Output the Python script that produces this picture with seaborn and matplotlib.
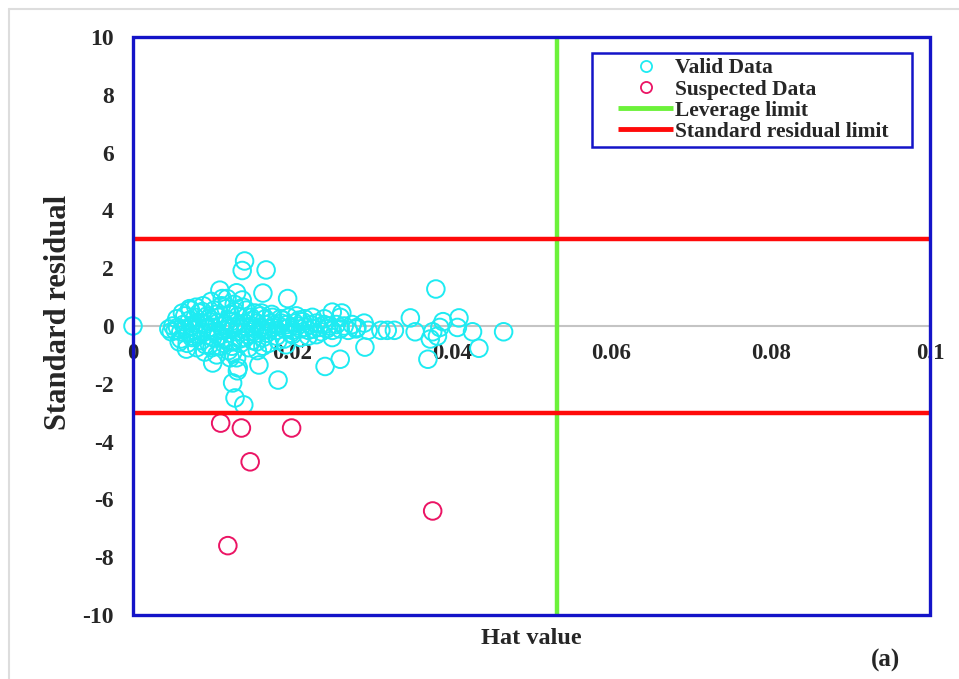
import numpy as np
import pandas as pd
import matplotlib
matplotlib.use("Agg")
import matplotlib.pyplot as plt
import seaborn as sns
from matplotlib.lines import Line2D
from matplotlib.patches import Rectangle
from matplotlib.legend_handler import HandlerLine2D

sns.set_theme(style="white")
plt.rcParams["font.family"] = ["Liberation Serif", "DejaVu Serif"]
plt.rcParams["font.weight"] = "bold"
plt.rcParams["axes.unicode_minus"] = False

# valid data (hat value, standard residual)
valid_hat = [
    0.0000, 0.0140, 0.0137, 0.0167, 0.0163, 0.0194, 0.0109, 0.0130, 0.0071, 0.0118,
    0.0380, 0.0348, 0.0409, 0.0465, 0.0434, 0.0370, 0.0291, 0.0354, 0.0311, 0.0319,
    0.0328, 0.0281, 0.0376, 0.0385, 0.0389, 0.0426, 0.0407, 0.0373, 0.0382, 0.0241,
    0.0260, 0.0100, 0.0125, 0.0158, 0.0125, 0.0128, 0.0139, 0.0182, 0.0122, 0.0131,
    0.0132, 0.0163, 0.0192, 0.0262, 0.0250,
    # dense band around zero
    0.0045, 0.0048, 0.0050, 0.0053, 0.0056, 0.0060, 0.0063, 0.0066, 0.0070, 0.0073,
    0.0076, 0.0080, 0.0083, 0.0086, 0.0090, 0.0093, 0.0096, 0.0100, 0.0103, 0.0106,
    0.0110, 0.0113, 0.0116, 0.0120, 0.0123, 0.0126, 0.0130, 0.0133, 0.0136, 0.0140,
    0.0143, 0.0146, 0.0150, 0.0153, 0.0156, 0.0160, 0.0163, 0.0166, 0.0170, 0.0173,
    0.0176, 0.0180, 0.0183, 0.0186, 0.0190, 0.0193, 0.0196, 0.0200, 0.0203, 0.0206,
    0.0210, 0.0213, 0.0216, 0.0220, 0.0223, 0.0226, 0.0230, 0.0233, 0.0236, 0.0240,
    0.0243, 0.0246, 0.0250, 0.0255, 0.0260, 0.0265, 0.0270, 0.0275, 0.0280, 0.0290,
    0.0295,
    # spread around the band
    0.0055, 0.0060, 0.0065, 0.0068, 0.0072, 0.0075, 0.0078, 0.0080, 0.0083, 0.0086,
    0.0088, 0.0090, 0.0093, 0.0096, 0.0098, 0.0100, 0.0102, 0.0105, 0.0108, 0.0110,
    0.0112, 0.0115, 0.0117, 0.0120, 0.0122, 0.0125, 0.0127, 0.0130, 0.0132, 0.0135,
    0.0137, 0.0140, 0.0142, 0.0145, 0.0148, 0.0150, 0.0153, 0.0156, 0.0160, 0.0163,
    0.0166, 0.0170, 0.0175, 0.0180, 0.0185, 0.0190, 0.0195, 0.0200, 0.0205, 0.0210,
    0.0215, 0.0220, 0.0225, 0.0230, 0.0240, 0.0250, 0.0260,
    # extra points filling the thick part of the band
    0.0058, 0.0062, 0.0067, 0.0071, 0.0074, 0.0079, 0.0082, 0.0087, 0.0091, 0.0095,
    0.0099, 0.0104, 0.0107, 0.0111, 0.0114, 0.0119, 0.0124, 0.0128, 0.0134, 0.0138,
    0.0144, 0.0149, 0.0155, 0.0161, 0.0168, 0.0174, 0.0182, 0.0188, 0.0198, 0.0208,
]
valid_resid = [
    0.00, 2.25, 1.92, 1.94, 1.14, 0.95, 1.24, 1.15, 0.60, 0.95,
    1.28, 0.28, 0.28, -0.20, -0.77, -1.15, -0.73, -0.20, -0.15, -0.15,
    -0.15, -0.05, -0.20, -0.05, 0.15, -0.20, -0.05, -0.45, -0.35, -1.40,
    -1.15, -1.28, -0.93, -1.35, -1.97, -2.49, -2.73, -1.87, -1.10, -1.55,
    -1.45, -0.70, -0.65, 0.45, 0.48,
    -0.10, -0.20, 0.00, -0.15, -0.05, -0.20, 0.05, -0.10, -0.25, 0.00,
    -0.15, 0.10, -0.05, -0.20, 0.05, -0.10, 0.15, -0.05, -0.20, 0.10,
    0.00, -0.15, 0.05, -0.10, 0.15, -0.05, -0.20, 0.05, -0.10, 0.10,
    -0.05, -0.20, 0.00, -0.10, 0.10, -0.05, -0.15, 0.05, -0.10, 0.10,
    -0.05, -0.15, 0.00, 0.10, -0.10, 0.05, -0.05, -0.15, 0.10, 0.00,
    -0.10, 0.15, -0.05, -0.15, 0.05, -0.10, 0.10, -0.05, -0.20, 0.05,
    -0.10, 0.00, -0.15, 0.05, -0.10, 0.00, -0.15, 0.05, -0.10, 0.10,
    -0.15,
    0.25, -0.45, 0.35, -0.60, 0.55, -0.35, 0.30, -0.75, 0.45, -0.50,
    0.70, -0.90, 0.35, -0.65, 0.85, -0.40, 0.55, -1.00, 0.30, -0.70,
    0.95, -0.45, 0.60, -0.85, 0.40, -0.55, 0.75, -1.10, 0.35, -0.60,
    0.90, -0.40, 0.55, -0.75, 0.30, -0.50, 0.45, -0.85, 0.35, -0.40,
    0.25, -0.60, 0.30, -0.35, 0.25, -0.45, 0.30, -0.30, 0.35, -0.40,
    0.25, -0.35, 0.30, -0.30, 0.25, -0.40, 0.30,
    -0.55, 0.45, -0.80, 0.20, -0.40, 0.65, -0.30, 0.50, -0.65, 0.25,
    -0.75, 0.40, -0.35, 0.70, -0.60, 0.20, -0.70, 0.50, -0.45, 0.65,
    -0.30, 0.20, -0.55, 0.45, -0.25, 0.40, -0.50, 0.20, -0.25, 0.20,
]

suspect_hat = [0.0110, 0.0136, 0.0199, 0.0147, 0.0119, 0.0376]
suspect_resid = [-3.36, -3.53, -3.53, -4.70, -7.60, -6.40]

leverage_limit = 0.0532
resid_limit = 3.0

df = pd.DataFrame({
    "hat": valid_hat + suspect_hat,
    "resid": valid_resid + suspect_resid,
    "kind": ["Valid Data"] * len(valid_hat) + ["Suspected Data"] * len(suspect_hat),
})

cyan = "#1EEBF2"
pink = "#EB1464"
green = "#6CF23A"
red = "#FF0A0A"
blue = "#1414C8"


class RightHandle(HandlerLine2D):
    # legend handle drawn in the right part of the handle box
    def create_artists(self, legend, orig_handle, xdescent, ydescent,
                       width, height, fontsize, trans):
        arts = super().create_artists(legend, orig_handle, xdescent, ydescent,
                                      width, height, fontsize, trans)
        k = 0.72
        right = width - xdescent
        for a in arts:
            xd = np.asarray(a.get_xdata(), dtype=float)
            a.set_xdata(right - (right - xd) * k)
        return arts


fig = plt.figure(figsize=(9.59, 6.79), dpi=100)
ax = fig.add_axes([133 / 959, 1 - 615 / 679, 797 / 959, 578 / 679])

sns.scatterplot(data=df, x="hat", y="resid", hue="kind",
                palette={"Valid Data": cyan, "Suspected Data": pink},
                s=160, linewidth=1.4, legend=False, ax=ax, zorder=3)
for coll in ax.collections:
    fc = coll.get_facecolors()
    coll.set_edgecolors(fc)
    coll.set_facecolors("none")
    coll.set_clip_on(False)

ax.axvline(leverage_limit, color=green, lw=3.2, zorder=4)
ax.axhline(resid_limit, color=red, lw=3.2, zorder=4)
ax.axhline(-resid_limit, color=red, lw=3.2, zorder=4)

ax.set_xlim(0, 0.1)
ax.set_ylim(-10, 10)
ax.set_xticks([0, 0.02, 0.04, 0.06, 0.08, 0.1])
ax.set_xticklabels(["0", "0.02", "0.04", "0.06", "0.08", "0.1"])
ax.set_yticks(np.arange(-10, 11, 2))

# x axis runs through zero, frame is drawn separately
ax.spines["bottom"].set_position(("data", 0))
ax.spines["bottom"].set_color("#C4C4C4")
ax.spines["bottom"].set_linewidth(1.5)
ax.spines["bottom"].set_zorder(1)
for s in ["left", "right", "top"]:
    ax.spines[s].set_visible(False)
ax.add_patch(Rectangle((0, 0), 1, 1, transform=ax.transAxes, fill=False,
                       edgecolor=blue, lw=2.4, clip_on=False, zorder=5))

ax.tick_params(axis="x", length=0, pad=12, labelsize=16.5)
ax.tick_params(axis="y", length=0, pad=14, labelsize=17)
for lab in ax.get_xticklabels() + ax.get_yticklabels():
    lab.set_fontweight("bold")

ax.set_xlabel("")
ax.set_ylabel("Standard residual", fontsize=22, fontweight="bold")
ax.yaxis.set_label_coords(-0.075, 0.524)
ax.text(0.5, -0.022, "Hat value", transform=ax.transAxes, ha="center", va="top",
        fontsize=17.5, fontweight="bold")
fig.text(885 / 959, 1 - 660 / 679, "(a)", ha="center", va="center",
         fontsize=18, fontweight="bold")

handles = [
    Line2D([], [], ls="none", marker="o", mfc="none", mec=cyan, ms=8, mew=1.3),
    Line2D([], [], ls="none", marker="o", mfc="none", mec=pink, ms=8, mew=1.3),
    Line2D([], [], color=green, lw=3.5, solid_capstyle="butt"),
    Line2D([], [], color=red, lw=3.5, solid_capstyle="butt"),
]
labels = ["Valid Data", "Suspected Data", "Leverage limit", "Standard residual limit"]
leg_x0 = (592 - 133) / 797
leg_w = 320 / 797
leg_top = (615 - 53) / 578
leg = ax.legend(handles, labels, loc="upper left", mode="expand",
                bbox_to_anchor=(leg_x0, leg_top - 0.3, leg_w, 0.3),
                borderaxespad=0, fancybox=False, framealpha=1, handlelength=3.5,
                handletextpad=0.1, labelspacing=0.05, borderpad=0.25,
                handler_map={Line2D: RightHandle()},
                prop={"size": 15.5, "weight": "bold"})
leg.get_frame().set_edgecolor(blue)
leg.get_frame().set_linewidth(1.8)
leg.set_zorder(6)

# light frame around the figure
fig.add_artist(Line2D([9 / 959, 1], [1 - 9 / 679, 1 - 9 / 679], color="#DDDDDD", lw=1.5))
fig.add_artist(Line2D([9 / 959, 9 / 959], [0, 1 - 9 / 679], color="#DDDDDD", lw=1.5))

fig.savefig("out.png", dpi=100)
